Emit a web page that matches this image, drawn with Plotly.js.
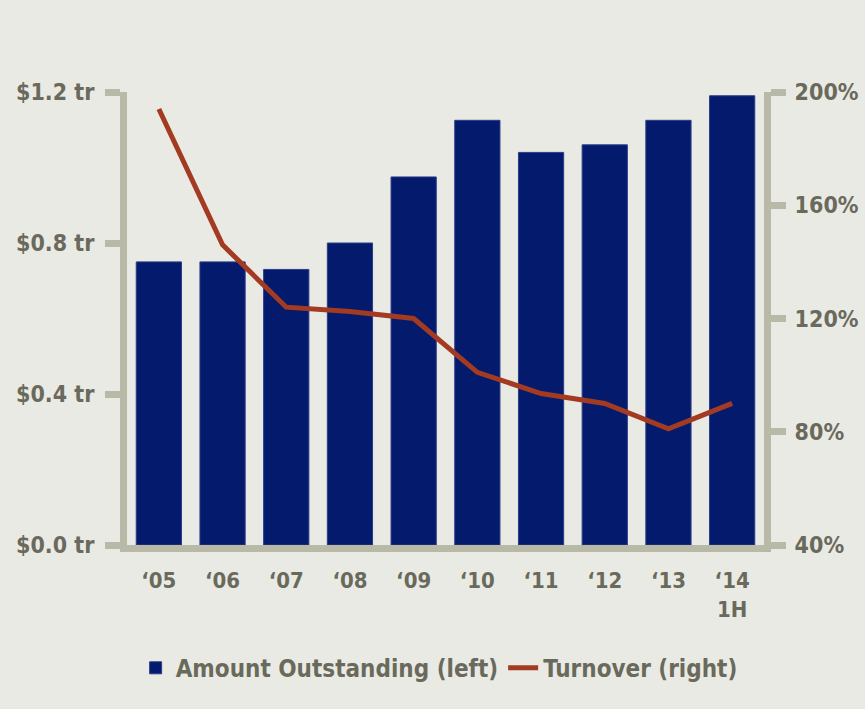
<!DOCTYPE html>
<html>
<head>
<meta charset="utf-8">
<script src="https://cdn.plot.ly/plotly-3.0.1.min.js"></script>
<style>html,body{margin:0;padding:0;background:#eaeae5;}</style>
</head>
<body>
<div id="chart" style="width:865px;height:709px;"></div>
<script>
const categories = ["‘05", "‘06", "‘07", "‘08", "‘09", "‘10", "‘11", "‘12", "‘13", "‘14<br>1H"];
const amountOutstanding = [0.75, 0.75, 0.73, 0.80, 0.975, 1.125, 1.04, 1.06, 1.125, 1.19];
const turnover = [194, 146, 124, 122.5, 120, 101, 93.5, 90, 81, 90];
const leftTickVals = [0, 0.4, 0.8, 1.2];
const leftTickText = ["$0.0 tr", "$0.4 tr", "$0.8 tr", "$1.2 tr"];
const rightTickVals = [40, 80, 120, 160, 200];
const rightTickText = ["40%", "80%", "120%", "160%", "200%"];

const FONT = '"DejaVu Sans Condensed", "Liberation Sans Narrow", sans-serif';
const TXT = '#6a6a5c';
const AX = '#b9b9a7';

const traces = [
  {
    type: 'bar', name: 'Amount Outstanding (left)',
    x: categories, y: amountOutstanding,
    marker: {color: '#041a6c', line: {color: '#2a3c88', width: 1}},
    yaxis: 'y'
  },
  {
    type: 'scatter', mode: 'lines', name: 'Turnover (right)',
    x: categories, y: turnover,
    line: {color: '#a33a22', width: 5},
    yaxis: 'y2'
  }
];

const layout = {
  width: 865, height: 709,
  paper_bgcolor: '#eaeae5', plot_bgcolor: '#eaeae5',
  margin: {l: 127, r: 101, t: 92, b: 164},
  font: {family: FONT, color: TXT, size: 22, weight: 'bold'},
  bargap: 0.29,
  barmode: 'overlay',
  showlegend: true,
  xaxis: {
    type: 'category',
    showline: true, linecolor: AX, linewidth: 7,
    ticks: '', showgrid: false, zeroline: false,
    ticklabelstandoff: 10,
    tickfont: {family: FONT, color: TXT, size: 22, weight: 'bold'}
  },
  yaxis: {
    range: [0, 1.2],
    tickvals: leftTickVals, ticktext: leftTickText,
    showline: true, linecolor: AX, linewidth: 7,
    ticks: 'outside', ticklen: 15, tickwidth: 7, tickcolor: AX,
    showgrid: false, zeroline: false,
    ticklabelstandoff: 6,
    tickfont: {family: FONT, color: TXT, size: 23, weight: 'bold'}
  },
  yaxis2: {
    range: [40, 200], overlaying: 'y', side: 'right',
    tickvals: rightTickVals, ticktext: rightTickText,
    showline: true, linecolor: AX, linewidth: 7,
    ticks: 'outside', ticklen: 15, tickwidth: 7, tickcolor: AX,
    showgrid: false, zeroline: false,
    ticklabelstandoff: 4,
    tickfont: {family: FONT, color: TXT, size: 23, weight: 'bold'}
  },
  legend: {
    orientation: 'h', x: 0.49, xanchor: 'center', y: -0.272, yanchor: 'middle',
    font: {family: FONT, color: TXT, size: 24, weight: 'bold'},
    bgcolor: 'rgba(0,0,0,0)', itemwidth: 30
  }
};

Plotly.newPlot('chart', traces, layout, {displayModeBar: false, staticPlot: true});
</script>
</body>
</html>
